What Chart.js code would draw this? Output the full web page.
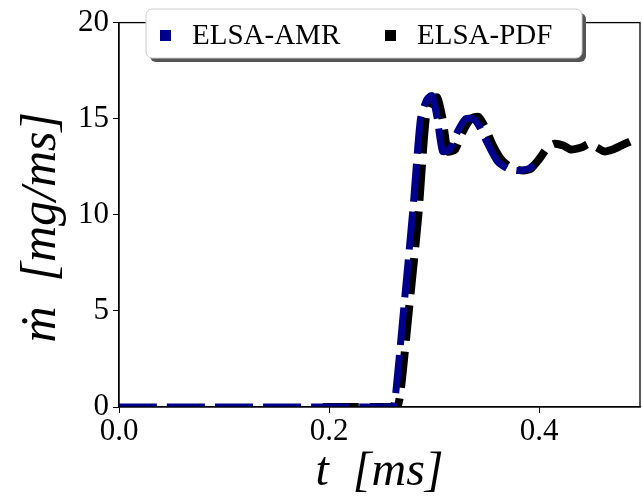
<!DOCTYPE html>
<html>
<head>
<meta charset="utf-8">
<script src="https://cdn.jsdelivr.net/npm/chart.js@4.4.1/dist/chart.umd.min.js"></script>
<style>
  html, body { margin: 0; padding: 0; background: #fff; }
  #wrap { width: 642px; height: 501px; position: relative; }
</style>
</head>
<body>
<div id="wrap"><canvas id="massFlow"></canvas></div>
<script>
// values
const amrTime = [0, 0.26, 0.263, 0.27, 0.28, 0.287, 0.293, 0.298, 0.303, 0.308, 0.315, 0.322, 0.33, 0.337, 0.343, 0.35, 0.36, 0.37, 0.38, 0.39, 0.395];
const amrFlow = [0, 0, 0.5, 4.5, 10.4, 15.0, 16.0, 16.2, 15.0, 13.3, 13.4, 14.3, 15.0, 15.0, 14.6, 13.8, 12.8, 12.4, 12.3, 12.4, 12.6];

const pdfTime = [0.194, 0.264, 0.268, 0.275, 0.285, 0.292, 0.298, 0.303, 0.308, 0.313, 0.32, 0.327, 0.335, 0.342, 0.348, 0.356, 0.365, 0.375, 0.385, 0.392, 0.4, 0.408, 0.415, 0.423, 0.43, 0.44, 0.448, 0.455, 0.462, 0.47, 0.478, 0.486, 0.494];
const pdfFlow = [0, 0, 0.8, 4.5, 10.0, 15.0, 16.0, 16.1, 15.0, 13.3, 13.4, 14.3, 15.0, 15.1, 14.6, 13.6, 12.8, 12.4, 12.3, 12.4, 12.9, 13.5, 13.7, 13.6, 13.4, 13.5, 13.7, 13.5, 13.3, 13.4, 13.6, 13.8, 14.0];

const seriesNames = ['ELSA-AMR', 'ELSA-PDF'];
const seriesColors = ['#00008b', '#000000'];
const yTicks = [0, 5, 10, 15, 20];
const xTicks = [0.0, 0.2, 0.4];

const toPoints = (ts, vs) => ts.map((t, i) => ({ x: t, y: vs[i] }));

const serif = '"Liberation Serif", "DejaVu Serif", serif';

// frame on all four sides + boxed legend with a drop shadow
const framePlugin = {
  id: 'frame',
  afterDatasetsDraw(chart) {
    const { ctx, chartArea: a } = chart;
    ctx.save();
    ctx.strokeStyle = '#000';
    ctx.lineWidth = 1.3;
    ctx.strokeRect(a.left, a.top, a.right - a.left, a.bottom - a.top);
    ctx.restore();
  },
  afterDraw(chart) {
    const ctx = chart.ctx;
    const bx = 146, by = 9, bw = 436, bh = 49, r = 6;
    ctx.save();
    const rr = (x, y) => {
      ctx.beginPath();
      ctx.roundRect(x, y, bw, bh, r);
    };
    rr(bx + 4, by + 4);
    ctx.fillStyle = '#555';
    ctx.fill();
    rr(bx, by);
    ctx.fillStyle = '#fff';
    ctx.fill();
    ctx.strokeStyle = '#ccc';
    ctx.lineWidth = 1;
    ctx.stroke();

    const itemX = [160, 385];
    ctx.font = '29px ' + serif;
    ctx.textBaseline = 'middle';
    chart.data.datasets.forEach((ds, i) => {
      ctx.fillStyle = ds.borderColor;
      ctx.fillRect(itemX[i], 30, 11, 11);
      ctx.fillStyle = '#000';
      ctx.fillText(ds.label, itemX[i] + 32, 36);
    });
    ctx.restore();
  }
};

new Chart(document.getElementById('massFlow'), {
  type: 'line',
  data: {
    datasets: [
      {
        label: seriesNames[0],
        data: toPoints(amrTime, amrFlow),
        borderColor: seriesColors[0],
        backgroundColor: seriesColors[0],
        borderWidth: 7,
        borderDash: [38, 10],
        pointRadius: 0,
        tension: 0.2,
        fill: false
      },
      {
        label: seriesNames[1],
        data: toPoints(pdfTime, pdfFlow),
        borderColor: seriesColors[1],
        backgroundColor: seriesColors[1],
        borderWidth: 8,
        borderDash: [36, 11],
        pointRadius: 0,
        tension: 0.2,
        fill: false
      }
    ]
  },
  options: {
    responsive: true,
    maintainAspectRatio: false,
    animation: false,
    layout: { padding: { top: 18, right: 2, left: 0, bottom: 0 } },
    plugins: {
      legend: { display: false },
      tooltip: { enabled: false }
    },
    scales: {
      x: {
        type: 'linear',
        min: 0,
        max: 0.496,
        afterBuildTicks: s => { s.ticks = xTicks.map(v => ({ value: v })); },
        afterFit: s => { s.height = 94; },
        ticks: {
          color: '#000',
          font: { family: serif, size: 31 },
          padding: 0,
          maxRotation: 0,
          callback: v => v.toFixed(1)
        },
        grid: { drawOnChartArea: false, drawTicks: true, tickLength: 6, color: '#000' },
        border: { display: true, color: '#000', width: 1.3 },
        title: {
          display: true,
          text: 't  [ms]',
          color: '#000',
          font: { family: serif, size: 48, style: 'italic' },
          padding: { top: 0, bottom: 0 }
        }
      },
      y: {
        min: 0,
        max: 20,
        afterBuildTicks: s => { s.ticks = yTicks.map(v => ({ value: v })); },
        afterFit: s => { s.width = 119; },
        ticks: {
          color: '#000',
          font: { family: serif, size: 31 },
          padding: 4
        },
        grid: { drawOnChartArea: false, drawTicks: true, tickLength: 6, color: '#000' },
        border: { display: true, color: '#000', width: 1.3 },
        title: {
          display: true,
          text: 'ṁ  [mg/ms]\u2002',
          color: '#000',
          font: { family: serif, size: 50, style: 'italic' },
          padding: { top: 12, bottom: 4 }
        }
      }
    }
  },
  plugins: [framePlugin]
});
</script>
</body>
</html>
